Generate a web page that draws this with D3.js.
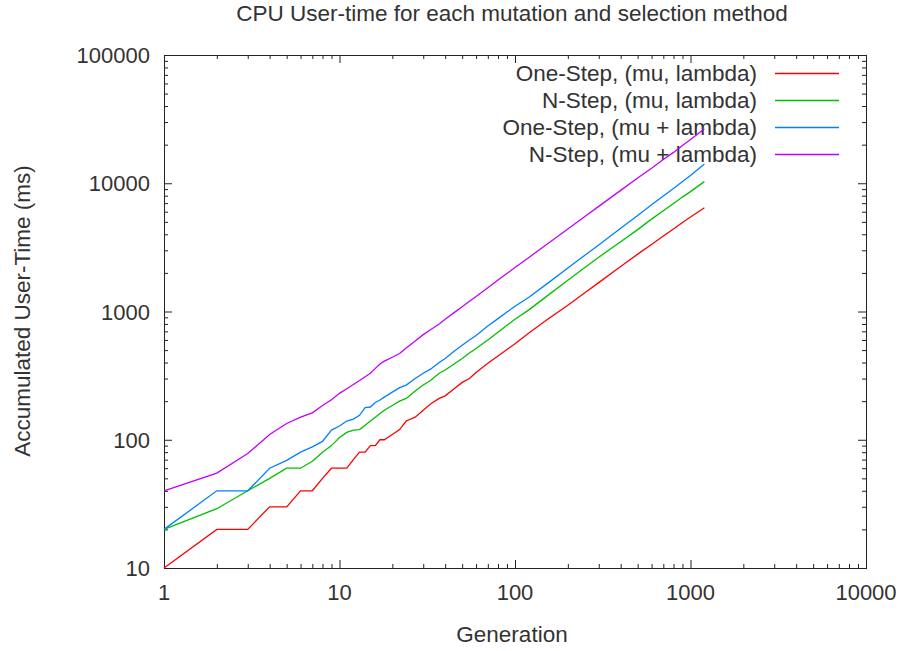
<!DOCTYPE html>
<html>
<head>
<meta charset="utf-8">
<script src="https://cdn.jsdelivr.net/npm/d3@7"></script>
<style>
  body { margin: 0; background: #fff; }
  text { font-family: "Liberation Sans", Arial, sans-serif; fill: #333; font-size: 22.5px; }
  .frame { fill: none; stroke: #222; stroke-width: 1; }
  .axis path { display: none; }
  .axis line { stroke: #222; }
</style>
</head>
<body>
<script>
var generations = [1,2,3,4,5,6,7,8,9,10,11,12,13,14,15,16,17,18,20,22,24,27,30,33,37,40,45,50,55,60,70,80,90,100,120,150,200,250,300,400,500,600,700,800,900,1000,1100,1200];

var oneStepComma = [10,20,20,30,30,40,40,50,60,60, 60,70,80,80,90,90,100,100,110,120, 140,150,170,190,210,220,250,280,300,335, 395,450,505,560,680,850,1120,1400,1680,2240, 2800,3330,3880,4400,4950,5450,5950,6450];
var nStepComma = [20,29,40,50,60,60,68,80,90,104, 114,119,120,130,140,150,160,170,185,200, 210,240,267,290,330,350,390,430,475,515, 600,690,780,870,1030,1300,1750,2200,2650,3500, 4350,5250,6100,6950,7800,8600,9450,10300];
var oneStepPlus = [20,40,40,60,69,80,88,97,119,128, 140,145,155,178,180,195,204,215,235,255, 267,300,330,355,400,430,490,545,600,650, 770,880,990,1100,1290,1620,2180,2750,3300,4450, 5600,6800,7950,9100,10300,11500,12800,14100];
var nStepPlus = [40,55,78,110,134,150,162,185,205,230, 250,270,290,310,330,360,390,410,440,470, 520,590,660,720,800,870,980,1090,1200,1310, 1530,1760,1980,2200,2640,3300,4400,5500,6600,8800, 11000,13100,15300,17400,19700,21900,24200,26600];

var seriesNames = ["One-Step, (mu, lambda)", "N-Step, (mu, lambda)", "One-Step, (mu + lambda)", "N-Step, (mu + lambda)"];
var seriesColors = ["#ff0000", "#00c000", "#0080ff", "#c000ff"];
var seriesValues = [oneStepComma, nStepComma, oneStepPlus, nStepPlus];

var xTicks = [1, 10, 100, 1000, 10000];
var yTicks = [10, 100, 1000, 10000, 100000];

var width = 901, height = 651;
var plotL = 164, plotR = 866, plotT = 55, plotB = 568;

var svg = d3.select("body").append("svg")
    .attr("width", width)
    .attr("height", height);

var x = d3.scaleLog().domain([1, 10000]).range([plotL, plotR]);
var y = d3.scaleLog().domain([10, 100000]).range([plotB, plotT]);

// minor ticks 2..9 in each decade
function minors(lo, hi) {
    var m = [];
    for (var d = lo; d < hi; d *= 10)
        for (var k = 2; k < 10; k++) m.push(d * k);
    return m;
}
var xMinor = minors(1, 10000), yMinor = minors(10, 100000);

function addAxis(axis, tx, ty) {
    svg.append("g").attr("class", "axis")
        .attr("transform", "translate(" + tx + "," + ty + ")")
        .call(axis)
        .selectAll("text").remove();
}

// major + minor ticks, pointing inward, mirrored on all four sides
addAxis(d3.axisBottom(x).tickValues(xTicks).tickSize(-8), 0, plotB);
addAxis(d3.axisBottom(x).tickValues(xMinor).tickSize(-4), 0, plotB);
addAxis(d3.axisTop(x).tickValues(xTicks).tickSize(-8), 0, plotT);
addAxis(d3.axisTop(x).tickValues(xMinor).tickSize(-4), 0, plotT);
addAxis(d3.axisLeft(y).tickValues(yTicks).tickSize(-8), plotL, 0);
addAxis(d3.axisLeft(y).tickValues(yMinor).tickSize(-4), plotL, 0);
addAxis(d3.axisRight(y).tickValues(yTicks).tickSize(-8), plotR, 0);
addAxis(d3.axisRight(y).tickValues(yMinor).tickSize(-4), plotR, 0);

svg.append("rect").attr("class", "frame")
    .attr("x", plotL + 0.5).attr("y", plotT + 0.5)
    .attr("width", plotR - plotL).attr("height", plotB - plotT);

// tick labels
svg.selectAll(".xlab").data(xTicks).enter().append("text")
    .attr("x", function(d) { return x(d); })
    .attr("y", 600)
    .attr("text-anchor", "middle")
    .style("font-size", "22px")
    .text(function(d) { return d; });

svg.selectAll(".ylab").data(yTicks).enter().append("text")
    .attr("x", 150)
    .attr("y", function(d) { return y(d) + 8; })
    .attr("text-anchor", "end")
    .style("font-size", "22px")
    .text(function(d) { return d; });

// titles
svg.append("text").attr("x", 512).attr("y", 21)
    .attr("text-anchor", "middle")
    .text("CPU User-time for each mutation and selection method");
svg.append("text").attr("x", 512).attr("y", 642)
    .attr("text-anchor", "middle")
    .text("Generation");
svg.append("text")
    .attr("transform", "translate(30,311) rotate(-90)")
    .attr("text-anchor", "middle")
    .text("Accumulated User-Time (ms)");

// legend text (curves are drawn over it)
svg.selectAll(".legtext").data(seriesNames).enter().append("text")
    .attr("x", 757)
    .attr("y", function(d, i) { return 81 + i * 27; })
    .attr("text-anchor", "end")
    .text(function(d) { return d; });

var line = d3.line()
    .x(function(d) { return x(d[0]); })
    .y(function(d) { return y(d[1]); });

seriesValues.forEach(function(vals, i) {
    svg.append("path")
        .datum(d3.zip(generations, vals))
        .attr("fill", "none")
        .attr("stroke", seriesColors[i])
        .attr("stroke-width", 1.3)
        .attr("d", line);

    svg.append("line")
        .attr("x1", 775).attr("x2", 839)
        .attr("y1", 73.5 + i * 27).attr("y2", 73.5 + i * 27)
        .attr("stroke", seriesColors[i])
        .attr("stroke-width", 1.3);
});
</script>
</body>
</html>
